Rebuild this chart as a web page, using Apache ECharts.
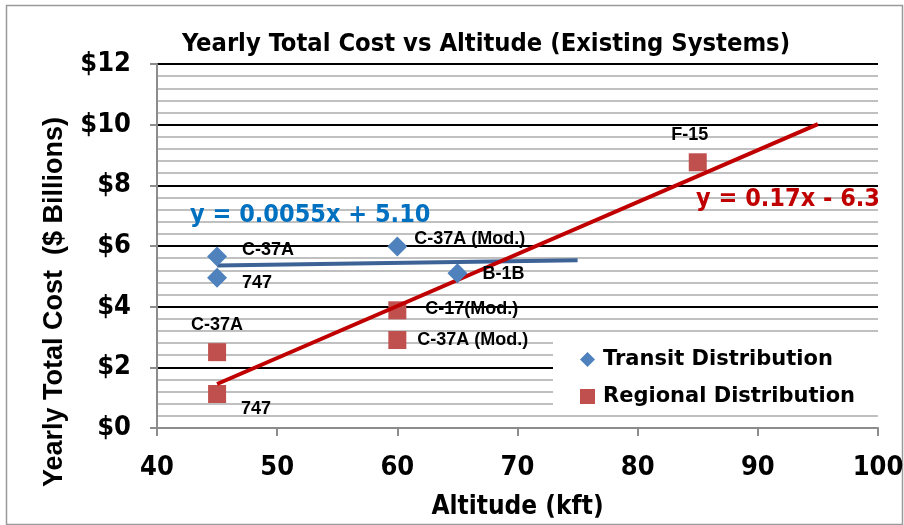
<!DOCTYPE html>
<html><head><meta charset="utf-8">
<script src="https://cdn.jsdelivr.net/npm/echarts@6/dist/echarts.min.js"></script>
<style>html,body{margin:0;padding:0;background:#fff}#c{width:904px;height:525px}</style>
</head><body><div id="c"></div>
<script>
// ---- data ----
var transitX = [45, 45, 60, 65];
var transitY = [5.65, 4.95, 5.98, 5.10];
var transitNames = ['C-37A', '747', 'C-37A (Mod.)', 'B-1B'];
var regionalX = [45, 45, 60, 60, 85];
var regionalY = [2.5, 1.12, 3.88, 2.9, 8.76];
var regionalNames = ['C-37A', '747', 'C-17(Mod.)', 'C-37A (Mod.)', 'F-15'];
var transitTrendX = [45, 75];
var transitTrendY = [5.36, 5.53];
var regionalTrendX = [45, 95];
var regionalTrendY = [1.45, 10.02];
var xTicks = [40, 50, 60, 70, 80, 90, 100];
var yTicks = [0, 2, 4, 6, 8, 10, 12];
var transitEq = 'y = 0.0055x + 5.10';
var regionalEq = 'y = 0.17x - 6.3';

// ---- build ----
var narrow = '"DejaVu Sans Condensed", sans-serif';
var wide = '"DejaVu Sans", sans-serif';
var arial = '"Liberation Sans", Arial, sans-serif';
var labelStyle = {fontFamily: arial, fontWeight: 'bold', fontSize: 18, color: '#000', opacity: 1};
var transitLabelPos = [
  {position: 'right', offset: [10, -7]},
  {position: 'right', offset: [10, 5]},
  {position: 'right', offset: [2, -8]},
  {position: 'right', offset: [10, 1]}
];
var regionalLabelPos = [
  {position: 'top', offset: [0, -4]},
  {position: 'right', offset: [10, 15]},
  {position: 'right', offset: [14, -1]},
  {position: 'right', offset: [6, 0]},
  {position: 'top', offset: [-8, -4]}
];
function pts(xs, ys, names, pos) {
  return xs.map(function (x, i) {
    var o = {value: [x, ys[i]]};
    if (names) {
      o.name = names[i];
      o.label = Object.assign({show: true, formatter: names[i]}, labelStyle, pos[i]);
    }
    return o;
  });
}

var chart = echarts.init(document.getElementById('c'), null, {renderer: 'canvas'});
chart.setOption({
  animation: false,
  backgroundColor: '#fff',
  title: {
    text: 'Yearly Total Cost vs Altitude (Existing Systems)',
    left: 481, textAlign: 'center', top: 27,
    textStyle: {fontFamily: narrow, fontWeight: 'bold', fontSize: 25.3, color: '#000'}
  },
  grid: {left: 157, right: 26, top: 64, bottom: 97, containLabel: false, outerBoundsMode: 'none'},
  xAxis: {
    type: 'value', min: 40, max: 100, interval: 10,
    name: 'Altitude (kft)', nameLocation: 'middle', nameGap: 66,
    nameTextStyle: {fontFamily: narrow, fontWeight: 'bold', fontSize: 26, color: '#000'},
    axisLine: {show: true, lineStyle: {color: '#8c8c8c', width: 2}},
    axisTick: {show: true, length: 8, lineStyle: {color: '#8c8c8c', width: 2}},
    axisLabel: {margin: 26, fontFamily: narrow, fontWeight: 'bold', fontSize: 27, color: '#000',
      formatter: function (v) { return xTicks.indexOf(v) >= 0 ? String(v) : ''; }},
    splitLine: {show: false}
  },
  yAxis: {
    type: 'value', min: 0, max: 12, interval: 2,
    axisLine: {show: true, lineStyle: {color: '#8c8c8c', width: 2}},
    axisTick: {show: true, length: 7, lineStyle: {color: '#8c8c8c', width: 2}},
    axisLabel: {margin: 26, fontFamily: narrow, fontWeight: 'bold', fontSize: 27, color: '#000',
      formatter: function (v) { return yTicks.indexOf(v) >= 0 ? '$' + v : ''; }},
    splitLine: {show: true, lineStyle: {color: '#000', width: 2}},
    minorTick: {show: false, splitNumber: 5},
    minorSplitLine: {show: true, lineStyle: {color: '#c0c0c0', width: 2}}
  },
  legend: {
    data: [
      {name: 'Transit Distribution', icon: 'diamond'},
      {name: 'Regional Distribution', icon: 'rect'}
    ],
    orient: 'vertical', left: 553, top: 337, width: 325, height: 78,
    padding: [12, 30, 3, 27], itemGap: 16, itemWidth: 15, itemHeight: 15,
    backgroundColor: '#fff',
    textStyle: {fontFamily: wide, fontWeight: 'bold', fontSize: 21, color: '#000', padding: [0, 0, 0, 3]}
  },
  series: [
    {
      name: 'Transit Trend', type: 'line', symbol: 'none', z: 3,
      data: pts(transitTrendX, transitTrendY),
      lineStyle: {color: '#3c6296', width: 4}
    },
    {
      name: 'Regional Trend', type: 'line', symbol: 'none', z: 4,
      data: pts(regionalTrendX, regionalTrendY),
      lineStyle: {color: '#c00000', width: 4}
    },
    {
      name: 'Transit Distribution', type: 'scatter', symbol: 'diamond', symbolSize: 20, z: 5,
      itemStyle: {color: '#4f81bd', opacity: 1},
      data: pts(transitX, transitY, transitNames, transitLabelPos)
    },
    {
      name: 'Regional Distribution', type: 'scatter', symbol: 'rect', symbolSize: 18, z: 2,
      itemStyle: {color: '#c0504d', opacity: 1},
      data: pts(regionalX, regionalY, regionalNames, regionalLabelPos)
    }
  ],
  graphic: [
    {type: 'rect', left: 4, top: 3, shape: {width: 896, height: 519},
      style: {fill: 'none', stroke: '#9a9a9a', lineWidth: 1.5}, silent: true, z: -10},
    {type: 'text', left: 190, top: 203, z: 100,
      style: {text: transitEq, fill: '#0070c0', fontFamily: narrow, fontWeight: 'bold', fontSize: 25}},
    {type: 'text', left: 696, top: 187, z: 100,
      style: {text: regionalEq, fill: '#c00000', fontFamily: narrow, fontWeight: 'bold', fontSize: 25}},
    {type: 'text', x: 55, y: 302, rotation: Math.PI / 2, z: 100,
      style: {text: 'Yearly Total Cost  ($ Billions)', fill: '#000', fontFamily: arial, fontWeight: 'bold', fontSize: 27,
        align: 'center', verticalAlign: 'middle'}}
  ]
});
</script>
</body></html>
